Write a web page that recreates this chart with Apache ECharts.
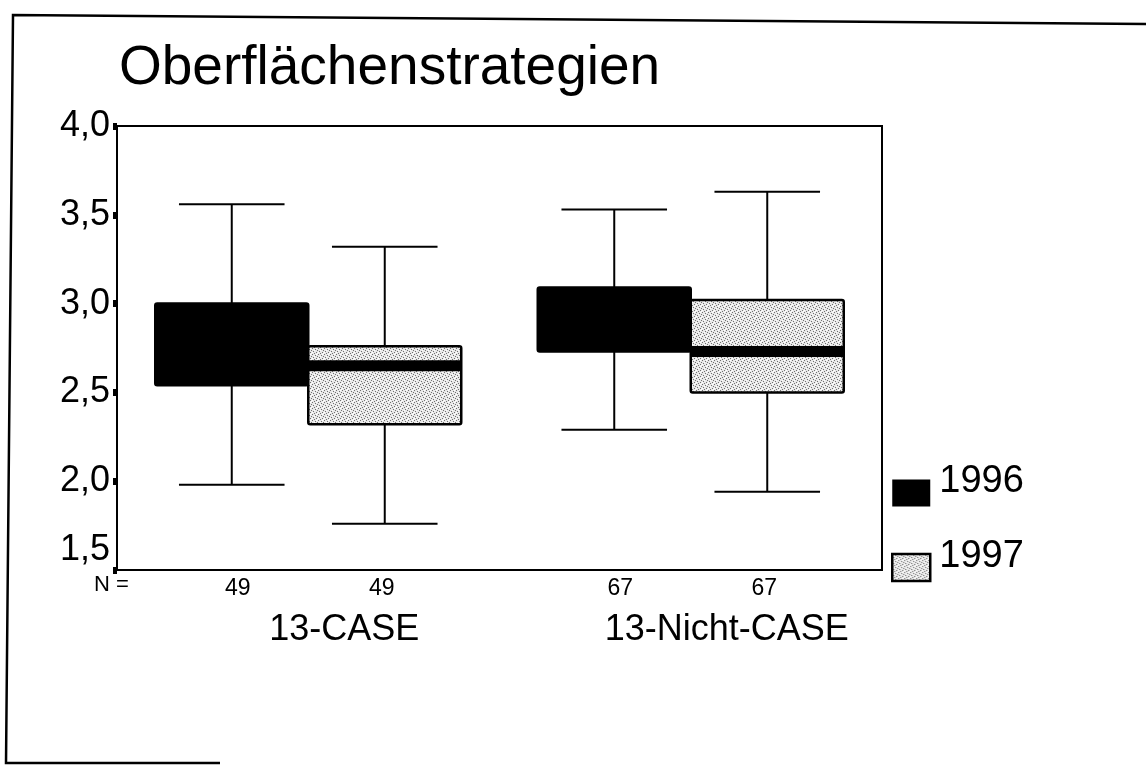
<!DOCTYPE html>
<html>
<head>
<meta charset="utf-8">
<style>
html,body{margin:0;padding:0;background:#fff;}
#chart{width:1146px;height:765px;}
</style>
<script src="https://cdn.jsdelivr.net/npm/echarts@6/dist/echarts.min.js"></script>
</head>
<body>
<div id="chart"></div>
<script>
// ---- data ----
const categories = ['13-CASE', '13-Nicht-CASE'];
const seriesNames = ['1996', '1997'];
// [min, Q1, median, Q3, max]
const stats1996 = [
  [1.98, 2.54, 2.75, 3.00, 3.56],
  [2.29, 2.73, 2.90, 3.09, 3.53]
];
const stats1997 = [
  [1.76, 2.32, 2.65, 2.76, 3.32],
  [1.94, 2.50, 2.73, 3.02, 3.63]
];
const n1996 = [49, 67];
const n1997 = [49, 67];
const yTicks = [1.5, 2.0, 2.5, 3.0, 3.5, 4.0];

// ---- stipple pattern for 1997 ----
function makePattern() {
  const c = document.createElement('canvas');
  c.width = 6; c.height = 6;
  const ctx = c.getContext('2d');
  ctx.fillStyle = '#e8e8e8';
  ctx.fillRect(0, 0, 6, 6);
  ctx.fillStyle = '#707070';
  [[0,0],[3,1],[1,3],[4,4],[2,5],[5,2]].forEach(p => ctx.fillRect(p[0], p[1], 1, 1));
  ctx.fillStyle = '#ffffff';
  [[2,2],[5,5],[0,4],[4,0]].forEach(p => ctx.fillRect(p[0], p[1], 1, 1));
  return c;
}
const pat = { image: makePattern(), repeat: 'repeat' };

function toData(stats, ns) {
  return stats.map((s, i) => [i, s[0], s[1], s[2], s[3], s[4], ns[i]]);
}

const font = 'Liberation Sans, Arial, sans-serif';

function makeRender(side, fill) {
  return function (params, api) {
    const xi = api.value(0);
    const band = api.size([1, 0])[0];
    const bw = band * 0.4;
    const cx = api.coord([xi, api.value(1)])[0];
    const left = side < 0 ? cx - bw : cx;
    const mid = left + bw / 2;
    const yMin = api.coord([xi, api.value(1)])[1];
    const yQ1 = api.coord([xi, api.value(2)])[1];
    const yMed = api.coord([xi, api.value(3)])[1];
    const yQ3 = api.coord([xi, api.value(4)])[1];
    const yMax = api.coord([xi, api.value(5)])[1];
    const yBottom = api.coord([xi, 1.5])[1];
    const capW = bw * 0.69;
    const ls = { stroke: '#000', lineWidth: 2 };
    return {
      type: 'group',
      children: [
        { type: 'line', shape: { x1: mid, y1: yMax, x2: mid, y2: yQ3 }, style: ls },
        { type: 'line', shape: { x1: mid, y1: yQ1, x2: mid, y2: yMin }, style: ls },
        { type: 'line', shape: { x1: mid - capW / 2, y1: yMax, x2: mid + capW / 2, y2: yMax }, style: ls },
        { type: 'line', shape: { x1: mid - capW / 2, y1: yMin, x2: mid + capW / 2, y2: yMin }, style: ls },
        { type: 'rect', shape: { x: left, y: yQ3, width: bw, height: yQ1 - yQ3, r: 2 },
          style: { fill: fill, stroke: '#000', lineWidth: 2.5 } },
        { type: 'rect', shape: { x: left, y: yMed - 5.5, width: bw, height: 11 },
          style: { fill: '#000' } },
        { type: 'text', x: mid + (side < 0 ? 6 : -3), y: yBottom + 19,
          style: { text: String(api.value(6)), fill: '#000', fontSize: 23,
                   fontFamily: font, align: 'center', verticalAlign: 'middle' } }
      ]
    };
  };
}

const chart = echarts.init(document.getElementById('chart'), null, { renderer: 'canvas' });

chart.setOption({
  backgroundColor: '#fff',
  animation: false,
  title: {
    text: 'Oberflächenstrategien',
    left: 114, top: 36,
    textStyle: { fontSize: 55, fontWeight: 'normal', color: '#000', fontFamily: font }
  },
  legend: {
    orient: 'vertical',
    left: 891, top: 463,
    itemWidth: 38, itemHeight: 27, itemGap: 31,
    padding: 0,
    formatter: '{t|{name}}',
    textStyle: {
      fontSize: 38, color: '#000', fontFamily: font,
      rich: { t: { fontSize: 38, color: '#000', fontFamily: font, lineHeight: 60, verticalAlign: 'top', padding: [0, 0, 0, 4] } }
    },
    data: [
      { name: '1996', icon: 'rect', itemStyle: { color: '#000', borderWidth: 0 } },
      { name: '1997', icon: 'rect', itemStyle: { color: pat, borderColor: '#000', borderWidth: 2.5 } }
    ]
  },
  grid: {
    left: 117, top: 126, width: 765, height: 444,
    show: true, borderColor: '#000', borderWidth: 2, backgroundColor: 'transparent'
  },
  xAxis: {
    type: 'category',
    data: categories,
    axisLine: { lineStyle: { color: '#000', width: 2 } },
    axisTick: { show: false },
    axisLabel: {
      color: '#000', fontSize: 36, fontFamily: font, margin: 42,
      padding: [0, 0, 0, 72]
    },
    splitLine: { show: false }
  },
  yAxis: {
    type: 'value',
    min: 1.5, max: 4.0, interval: 0.5,
    axisLine: { show: true, lineStyle: { color: '#000', width: 2 } },
    axisTick: { show: true, length: 4, lineStyle: { color: '#000', width: 7 } },
    splitLine: { show: false },
    axisLabel: {
      color: '#000', fontSize: 36, fontFamily: font, margin: 7,
      formatter: function (v) {
        const s = v.toFixed(1).replace('.', ',');
        return v === yTicks[0] ? '{low|' + s + '}' : s;
      },
      rich: { low: { fontSize: 36, fontFamily: font, color: '#000', padding: [0, 0, 40, 0] } }
    }
  },
  graphic: [
    { type: 'polyline', shape: { points: [[220, 763], [6, 763], [13, 15], [1146, 24]] },
      style: { stroke: '#000', lineWidth: 2.5, fill: null }, silent: true },
    { type: 'text', left: 94, top: 574,
      style: { text: 'N =', fontSize: 22, fill: '#000', fontFamily: font } }
  ],
  series: [
    {
      name: seriesNames[0], type: 'custom',
      itemStyle: { color: '#000' },
      renderItem: makeRender(-1, '#000'),
      encode: { x: 0, y: [1, 2, 3, 4, 5] },
      data: toData(stats1996, n1996)
    },
    {
      name: seriesNames[1], type: 'custom',
      itemStyle: { color: pat },
      renderItem: makeRender(1, pat),
      encode: { x: 0, y: [1, 2, 3, 4, 5] },
      data: toData(stats1997, n1997)
    }
  ]
});
</script>
</body>
</html>
